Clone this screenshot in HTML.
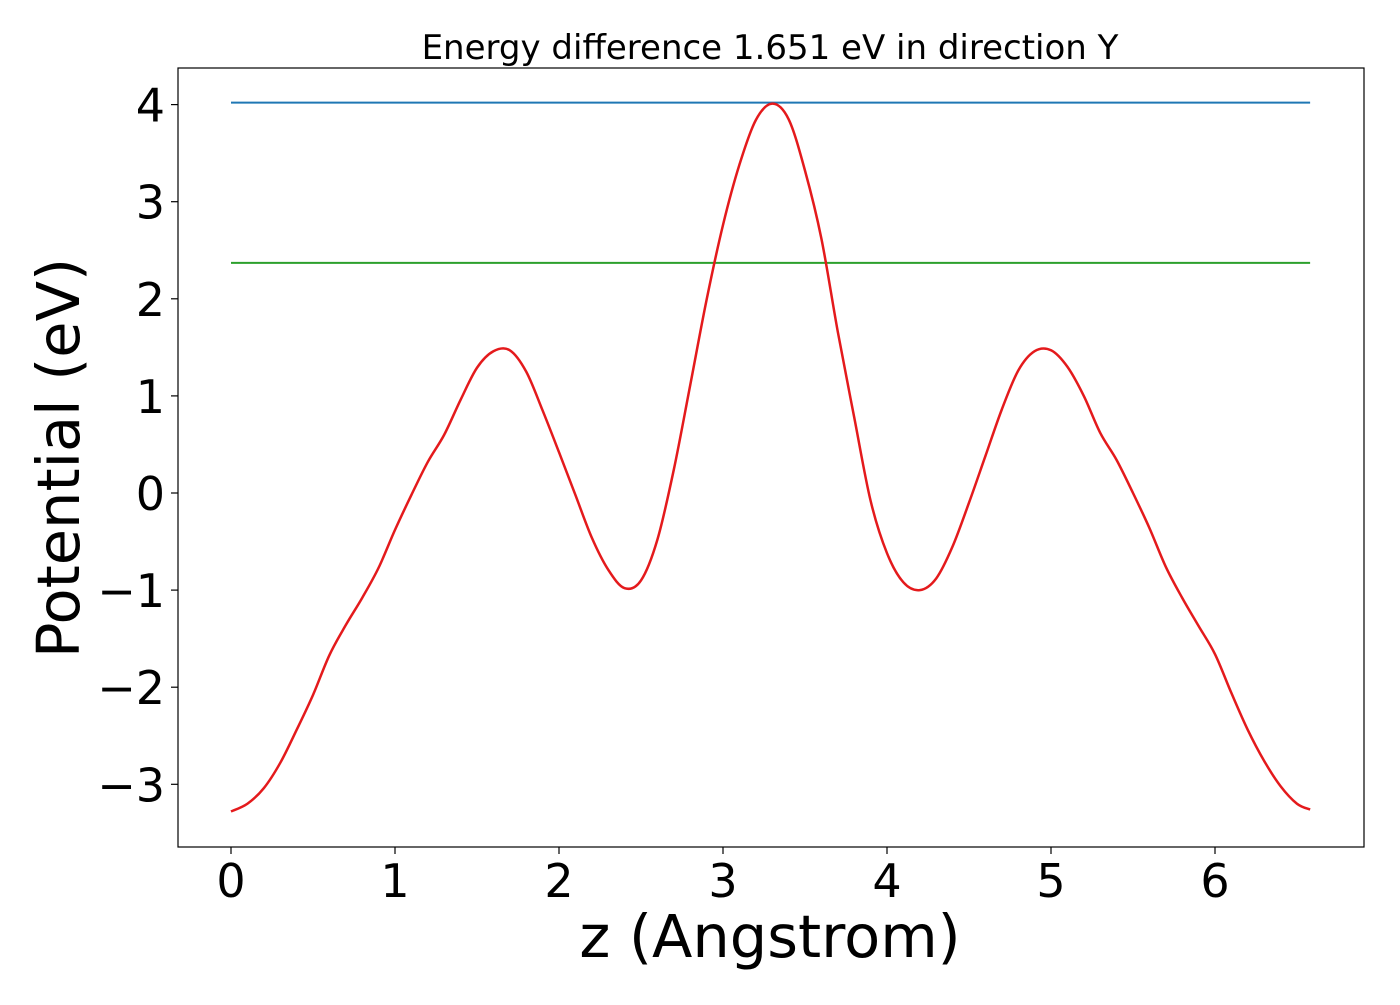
<!DOCTYPE html>
<html><head><meta charset="utf-8"><style>
body{margin:0;background:#fff;}
svg text{font-family:"DejaVu Sans","Liberation Sans",sans-serif;fill:#000;}
</style></head><body>
<svg id="chart" width="1400" height="1000" xmlns="http://www.w3.org/2000/svg">
<rect x="0" y="0" width="1400" height="1000" fill="#fff"/>
<text x="770" y="59" font-size="34" text-anchor="middle">Energy difference 1.651 eV in direction Y</text>
<g id="plot"></g>
<rect x="178" y="68" width="1186" height="779" fill="none" stroke="#000" stroke-width="1.2"/>
<text x="770" y="957" font-size="59" text-anchor="middle">z (Angstrom)</text>
<text transform="translate(79,458) rotate(-90)" font-size="59" text-anchor="middle">Potential (eV)</text>
</svg>
<script>
const xs = [0,0.1,0.2,0.3,0.4,0.5,0.6,0.7,0.8,0.9,1.0,1.1,1.2,1.3,1.4,1.5,1.6,1.7,1.8,1.9,2.0,2.1,2.2,2.3,2.4,2.5,2.6,2.7,2.8,2.9,3.0,3.1,3.2,3.3,3.4,3.5,3.6,3.7,3.8,3.9,4.0,4.1,4.2,4.3,4.4,4.5,4.6,4.7,4.8,4.9,5.0,5.1,5.2,5.3,5.4,5.5,5.6,5.7,5.8,5.9,6.0,6.1,6.2,6.3,6.4,6.5,6.58];
const potential = [-3.28,-3.2,-3.04,-2.78,-2.44,-2.08,-1.67,-1.36,-1.08,-0.77,-0.38,-0.02,0.32,0.6,0.96,1.29,1.46,1.47,1.25,0.85,0.42,-0.02,-0.46,-0.79,-0.98,-0.9,-0.48,0.24,1.11,1.99,2.76,3.38,3.84,4.01,3.85,3.32,2.62,1.66,0.78,-0.08,-0.62,-0.92,-1.0,-0.88,-0.55,-0.1,0.38,0.86,1.26,1.46,1.47,1.3,1.0,0.62,0.34,0.0,-0.36,-0.76,-1.08,-1.37,-1.66,-2.06,-2.44,-2.76,-3.02,-3.2,-3.26];
const levelBlue = [4.02];
const levelGreen = [2.37];
const xTicks = [0,1,2,3,4,5,6];
const yTicks = [-3,-2,-1,0,1,2,3,4];

const X = v => 231 + v*164;
const Y = v => 493 - v*97.1;
const NS = "http://www.w3.org/2000/svg";
const svg = document.getElementById('chart');
const plot = document.getElementById('plot');
function mk(tag, attrs, parent){const e=document.createElementNS(NS,tag);for(const k in attrs)e.setAttribute(k,attrs[k]);parent.appendChild(e);return e;}

xTicks.forEach(t=>{
  const l=mk('line',{x1:X(t),x2:X(t),y1:847,y2:854,stroke:'#000','stroke-width':1.2},svg);
  
  
  const tx=mk('text',{x:X(t),y:897,'font-size':46,'text-anchor':'middle'},svg);
  tx.textContent=String(t);
  
  
});
yTicks.forEach(t=>{
  const l=mk('line',{x1:171,x2:178,y1:Y(t),y2:Y(t),stroke:'#000','stroke-width':1.2},svg);
  
  
  const tx=mk('text',{x:165,y:Y(t)+17,'font-size':46,'text-anchor':'end'},svg);
  tx.textContent=(t<0?'\u2212'+(-t):String(t));
  
  
});
const x0=xs[0], x1=xs[xs.length-1];
const b=mk('line',{x1:X(x0),x2:X(x1),y1:Y(levelBlue[0]),y2:Y(levelBlue[0]),stroke:'#1f77b4','stroke-width':2},plot);


const g=mk('line',{x1:X(x0),x2:X(x1),y1:Y(levelGreen[0]),y2:Y(levelGreen[0]),stroke:'#2ca02c','stroke-width':2},plot);



const pts=xs.map((x,i)=>[X(x),Y(potential[i])]);
let d='M'+pts[0][0]+','+pts[0][1];
for(let i=0;i<pts.length-1;i++){
  const p0=pts[Math.max(0,i-1)],p1=pts[i],p2=pts[i+1],p3=pts[Math.min(pts.length-1,i+2)];
  const c1=[p1[0]+(p2[0]-p0[0])/6,p1[1]+(p2[1]-p0[1])/6];
  const c2=[p2[0]-(p3[0]-p1[0])/6,p2[1]-(p3[1]-p1[1])/6];
  d+=' C'+c1[0]+','+c1[1]+' '+c2[0]+','+c2[1]+' '+p2[0]+','+p2[1];
}
const curve=mk('path',{d:d,fill:'none',stroke:'#e41a1c','stroke-width':2.5},plot);


</script>
</body></html>
